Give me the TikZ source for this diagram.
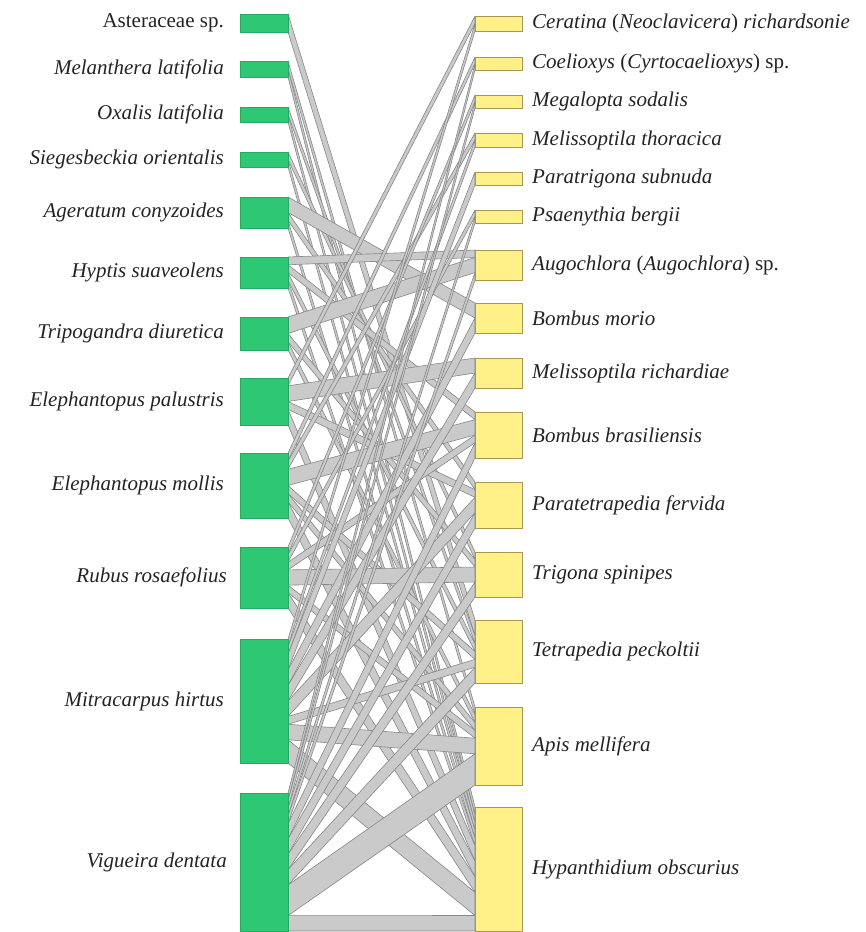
\documentclass[tikz,border=0pt]{standalone}
\usepackage{fontspec}
\setmainfont{Liberation Serif}
\usetikzlibrary{calc}
\pgfdeclarelayer{background}
\pgfsetlayers{background,main}
\definecolor{plgreen}{RGB}{46,200,116}
\definecolor{plgreenB}{RGB}{38,170,98}
\definecolor{beeyel}{RGB}{255,240,135}
\definecolor{beeyelB}{RGB}{170,150,80}
\definecolor{lnkfill}{RGB}{202,202,202}
\definecolor{lnkdraw}{RGB}{135,135,135}
\definecolor{txt}{RGB}{35,35,35}
\tikzset{
  plbox/.style={rectangle, fill=plgreen, draw=plgreenB, line width=0.6pt, inner sep=0pt, outer sep=0pt, minimum width=48pt, anchor=north west},
  beebox/.style={rectangle, fill=beeyel, draw=beeyelB, line width=1pt, inner sep=0pt, outer sep=0pt, minimum width=47pt, anchor=north west},
  lnkst/.style={fill=lnkfill, draw=lnkdraw, line width=0.6pt, line join=round},
  lablft/.style={anchor=east, inner sep=0pt, text=txt, font=\fontsize{21}{25}\selectfont},
  labrgt/.style={anchor=west, inner sep=0pt, text=txt, font=\fontsize{21}{25}\selectfont}
}
\newcommand\lnk[8]{\filldraw[lnkst] ($(#1.north east)!#2/#4!(#1.south east)$) -- ($(#1.north east)!#3/#4!(#1.south east)$) -- ($(#5.north west)!#7/#8!(#5.south west)$) -- ($(#5.north west)!#6/#8!(#5.south west)$) -- cycle;}
\begin{document}
\begin{tikzpicture}[x=1pt,y=-1pt]
\useasboundingbox (0,0) rectangle (866,932);
% plant boxes
\node[plbox, minimum height=18pt] (P1) at (240,14) {};
\node[plbox, minimum height=16pt] (P2) at (240,61) {};
\node[plbox, minimum height=15pt] (P3) at (240,107) {};
\node[plbox, minimum height=15pt] (P4) at (240,152) {};
\node[plbox, minimum height=31pt] (P5) at (240,197) {};
\node[plbox, minimum height=31pt] (P6) at (240,257) {};
\node[plbox, minimum height=33pt] (P7) at (240,317) {};
\node[plbox, minimum height=47pt] (P8) at (240,378) {};
\node[plbox, minimum height=65pt] (P9) at (240,453) {};
\node[plbox, minimum height=61pt] (P10) at (240,547) {};
\node[plbox, minimum height=124pt] (P11) at (240,639) {};
\node[plbox, minimum height=138pt] (P12) at (240,793) {};
% bee boxes
\node[beebox, minimum height=15pt] (B1) at (475,16) {};
\node[beebox, minimum height=13pt] (B2) at (475,57) {};
\node[beebox, minimum height=13pt] (B3) at (475,95) {};
\node[beebox, minimum height=14pt] (B4) at (475,133) {};
\node[beebox, minimum height=13pt] (B5) at (475,172) {};
\node[beebox, minimum height=13pt] (B6) at (475,210) {};
\node[beebox, minimum height=30pt] (B7) at (475,250) {};
\node[beebox, minimum height=30pt] (B8) at (475,303) {};
\node[beebox, minimum height=30pt] (B9) at (475,358) {};
\node[beebox, minimum height=46pt] (B10) at (475,412) {};
\node[beebox, minimum height=46pt] (B11) at (475,482) {};
\node[beebox, minimum height=45pt] (B12) at (475,552) {};
\node[beebox, minimum height=63pt] (B13) at (475,620) {};
\node[beebox, minimum height=78pt] (B14) at (475,707) {};
\node[beebox, minimum height=124pt] (B15) at (475,807) {};
% links
\begin{pgfonlayer}{background}
\lnk{P1}{0}{2}{2}{B13}{0}{2}{8}
\lnk{P2}{0}{1}{2}{B14}{0}{1}{10}
\lnk{P2}{1}{2}{2}{B15}{0}{1}{16}
\lnk{P3}{0}{1}{2}{B13}{2}{3}{8}
\lnk{P3}{1}{2}{2}{B15}{1}{2}{16}
\lnk{P4}{0}{1}{2}{B12}{0}{1}{6}
\lnk{P4}{1}{2}{2}{B15}{2}{3}{16}
\lnk{P5}{0}{2}{4}{B8}{0}{2}{4}
\lnk{P5}{2}{3}{4}{B11}{0}{1}{6}
\lnk{P5}{3}{4}{4}{B15}{3}{4}{16}
\lnk{P6}{0}{1}{4}{B7}{0}{1}{4}
\lnk{P6}{1}{2}{4}{B10}{0}{1}{6}
\lnk{P6}{2}{3}{4}{B13}{3}{4}{8}
\lnk{P6}{3}{4}{4}{B15}{4}{5}{16}
\lnk{P7}{0}{2}{4}{B7}{1}{3}{4}
\lnk{P7}{2}{3}{4}{B12}{1}{2}{6}
\lnk{P7}{3}{4}{4}{B14}{1}{2}{10}
\lnk{P8}{0}{1}{6}{B1}{0}{1}{2}
\lnk{P8}{1}{3}{6}{B9}{0}{2}{4}
\lnk{P8}{3}{4}{6}{B11}{1}{2}{6}
\lnk{P8}{4}{6}{6}{B15}{5}{7}{16}
\lnk{P9}{0}{1}{8}{B2}{0}{1}{2}
\lnk{P9}{1}{2}{8}{B4}{0}{1}{2}
\lnk{P9}{2}{4}{8}{B10}{1}{3}{6}
\lnk{P9}{4}{5}{8}{B13}{4}{5}{8}
\lnk{P9}{5}{6}{8}{B14}{2}{3}{10}
\lnk{P9}{6}{8}{8}{B15}{7}{9}{16}
\lnk{P10}{0}{1}{8}{B3}{0}{1}{2}
\lnk{P10}{1}{2}{8}{B6}{0}{1}{2}
\lnk{P10}{2}{3}{8}{B10}{3}{4}{6}
\lnk{P10}{3}{5}{8}{B12}{2}{4}{6}
\lnk{P10}{5}{6}{8}{B14}{3}{4}{10}
\lnk{P10}{6}{8}{8}{B15}{9}{11}{16}
\lnk{P11}{0}{1}{16}{B1}{1}{2}{2}
\lnk{P11}{1}{2}{16}{B4}{1}{2}{2}
\lnk{P11}{2}{4}{16}{B5}{0}{2}{2}
\lnk{P11}{4}{6}{16}{B8}{2}{4}{4}
\lnk{P11}{6}{8}{16}{B9}{2}{4}{4}
\lnk{P11}{8}{10}{16}{B11}{2}{4}{6}
\lnk{P11}{10}{11}{16}{B13}{5}{6}{8}
\lnk{P11}{11}{13}{16}{B14}{4}{6}{10}
\lnk{P11}{13}{16}{16}{B15}{11}{14}{16}
\lnk{P12}{0}{1}{18}{B2}{1}{2}{2}
\lnk{P12}{1}{2}{18}{B3}{1}{2}{2}
\lnk{P12}{2}{3}{18}{B6}{1}{2}{2}
\lnk{P12}{3}{4}{18}{B7}{3}{4}{4}
\lnk{P12}{4}{6}{18}{B10}{4}{6}{6}
\lnk{P12}{6}{8}{18}{B11}{4}{6}{6}
\lnk{P12}{8}{10}{18}{B12}{4}{6}{6}
\lnk{P12}{10}{12}{18}{B13}{6}{8}{8}
\lnk{P12}{12}{16}{18}{B14}{6}{10}{10}
\lnk{P12}{16}{18}{18}{B15}{14}{16}{16}
\end{pgfonlayer}
% plant labels
\node[lablft] (lt1) at ([xshift=-16pt]P1.west) {Asteraceae sp.};
\node[lablft] (lt2) at ([xshift=-16pt]P2.west) {\textit{Melanthera latifolia}};
\node[lablft] (lt3) at ([xshift=-16pt]P3.west) {\textit{Oxalis latifolia}};
\node[lablft] (lt4) at ([xshift=-16pt]P4.west) {\textit{Siegesbeckia orientalis}};
\node[lablft] (lt5) at ([xshift=-16pt]P5.west) {\textit{Ageratum conyzoides}};
\node[lablft] (lt6) at ([xshift=-16pt]P6.west) {\textit{Hyptis suaveolens}};
\node[lablft] (lt7) at ([xshift=-16pt]P7.west) {\textit{Tripogandra diuretica}};
\node[lablft] (lt8) at ([xshift=-16pt]P8.west) {\textit{Elephantopus palustris}};
\node[lablft] (lt9) at ([xshift=-16pt]P9.west) {\textit{Elephantopus mollis}};
\node[lablft] (lt10) at ([xshift=-13pt]P10.west) {\textit{Rubus rosaefolius}};
\node[lablft] (lt11) at ([xshift=-16pt]P11.west) {\textit{Mitracarpus hirtus}};
\node[lablft] (lt12) at ([xshift=-13pt]P12.west) {\textit{Vigueira dentata}};
% bee labels
\node[labrgt] (rt1) at ([xshift=10pt]B1.east) {\textit{Ceratina} (\textit{Neoclavicera}) \textit{richardsonie}};
\node[labrgt] (rt2) at ([xshift=10pt]B2.east) {\textit{Coelioxys} (\textit{Cyrtocaelioxys}) sp.};
\node[labrgt] (rt3) at ([xshift=10pt]B3.east) {\textit{Megalopta sodalis}};
\node[labrgt] (rt4) at ([xshift=10pt]B4.east) {\textit{Melissoptila thoracica}};
\node[labrgt] (rt5) at ([xshift=10pt]B5.east) {\textit{Paratrigona subnuda}};
\node[labrgt] (rt6) at ([xshift=10pt]B6.east) {\textit{Psaenythia bergii}};
\node[labrgt] (rt7) at ([xshift=10pt]B7.east) {\textit{Augochlora} (\textit{Augochlora}) sp.};
\node[labrgt] (rt8) at ([xshift=10pt]B8.east) {\textit{Bombus morio}};
\node[labrgt] (rt9) at ([xshift=10pt]B9.east) {\textit{Melissoptila richardiae}};
\node[labrgt] (rt10) at ([xshift=10pt]B10.east) {\textit{Bombus brasiliensis}};
\node[labrgt] (rt11) at ([xshift=10pt]B11.east) {\textit{Paratetrapedia fervida}};
\node[labrgt] (rt12) at ([xshift=10pt]B12.east) {\textit{Trigona spinipes}};
\node[labrgt] (rt13) at ([xshift=10pt]B13.east) {\textit{Tetrapedia peckoltii}};
\node[labrgt] (rt14) at ([xshift=10pt]B14.east) {\textit{Apis mellifera}};
\node[labrgt] (rt15) at ([xshift=10pt]B15.east) {\textit{Hypanthidium obscurius}};
\end{tikzpicture}
\end{document}
